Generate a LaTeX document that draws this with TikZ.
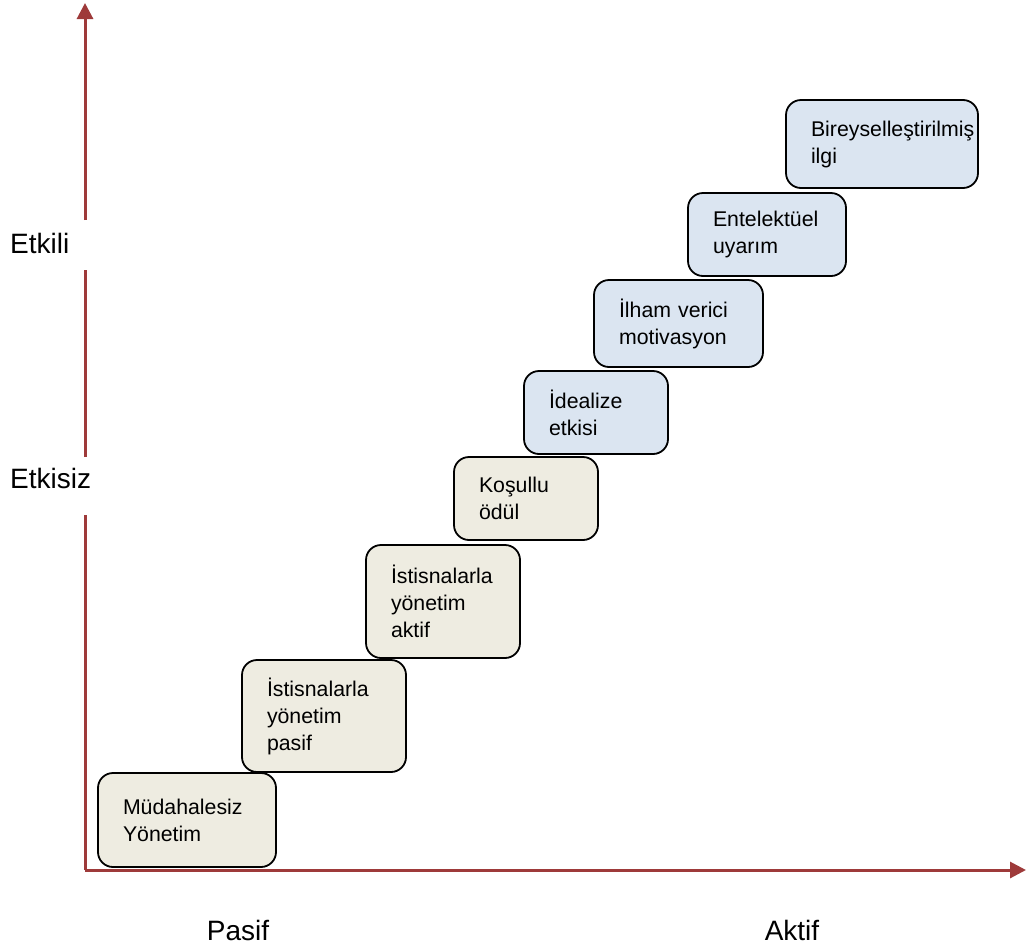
\documentclass[tikz,border=0pt]{standalone}
\usepackage{fontspec}
\setmainfont{Liberation Sans}
\usetikzlibrary{arrows.meta}
\definecolor{axisred}{RGB}{158,58,58}
\definecolor{stepbeige}{RGB}{238,236,225}
\definecolor{stepblue}{RGB}{219,229,241}
\tikzset{
  axisline/.style={draw=axisred, line width=3pt},
  axistip/.style={-{Triangle[width=16pt,length=16pt]}},
  axislabel/.style={font=\fontsize{28}{32}\selectfont, inner sep=0pt},
  stepbox/.style 2 args={draw=black, line width=1.8pt, rounded corners=15pt,
    minimum width=#1, text width=#1-50pt, inner xsep=25pt, inner ysep=0pt,
    minimum height=#2, align=left, font=\fontsize{21.3}{27}\selectfont},
  transac/.style={fill=stepbeige},
  transform/.style={fill=stepblue},
}
\begin{document}
\begin{tikzpicture}[x=1pt, y=-1pt]
\useasboundingbox (0,0) rectangle (1027,948);

% axes, the vertical one broken around its labels
\coordinate (o) at (85,870);
\coordinate (ytop) at (85,3);
\coordinate (xend) at (1026,870);
\coordinate (g1a) at (85,515);
\coordinate (g1b) at (85,457);
\coordinate (g2a) at (85,270);
\coordinate (g2b) at (85,220);
\draw[axisline] (o) -- (g1a);
\draw[axisline] (g1b) -- (g2a);
\draw[axisline, axistip] (g2b) -- (ytop);
\draw[axisline, axistip] (o) -- (xend);

\node[axislabel, anchor=west] (etkili) at (10,243) {Etkili};
\node[axislabel, anchor=west] (etkisiz) at (10,478) {Etkisiz};
\node[axislabel] (pasif) at (238,930) {Pasif};
\node[axislabel] (aktif) at (792,930) {Aktif};

% leadership steps
\node[stepbox={178pt}{94pt}, transac] (s1) at (187,820) {Müdahalesiz\\Yönetim};
\node[stepbox={164pt}{112pt}, transac] (s2) at (324,716) {İstisnalarla\\yönetim\\pasif};
\node[stepbox={154pt}{113pt}, transac] (s3) at (443,601.5) {İstisnalarla\\yönetim\\aktif};
\node[stepbox={144pt}{83pt}, transac] (s4) at (526,498.5) {Koşullu\\ödül};
\node[stepbox={144pt}{83pt}, transform] (s5) at (596,412.5) {İdealize\\etkisi};
\node[stepbox={169pt}{87pt}, transform] (s6) at (678.5,323.5) {İlham verici\\motivasyon};
\node[stepbox={158pt}{83pt}, transform] (s7) at (767,234.5) {Entelektüel\\uyarım};
\node[stepbox={192pt}{88pt}, transform] (s8) at (882,144) {Bireyselleştirilmiş\\ilgi};
\end{tikzpicture}
\end{document}
